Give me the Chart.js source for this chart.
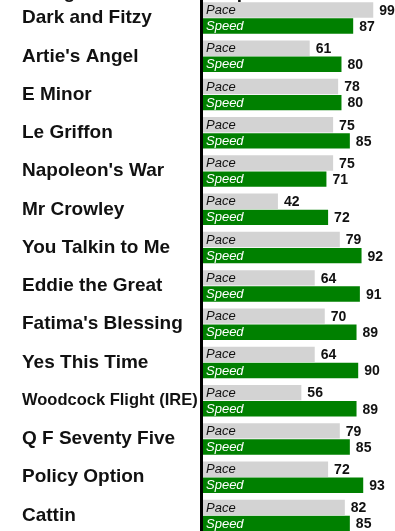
<!DOCTYPE html>
<html>
<head>
<meta charset="utf-8">
<script src="https://cdn.jsdelivr.net/npm/chart.js@4"></script>
<style>
  html, body { margin: 0; padding: 0; background: #fff; overflow: hidden; }
  body { width: 395px; height: 531px; position: relative; }
  #chart { position: absolute; left: 0; top: -30px; }
</style>
</head>
<body>
<canvas id="chart" width="395" height="576"></canvas>
<script>
const horses = [
    'Dark and Fitzy', "Artie's Angel", 'E Minor', 'Le Griffon', "Napoleon's War",
    'Mr Crowley', 'You Talkin to Me', 'Eddie the Great', "Fatima's Blessing",
    'Yes This Time', 'Woodcock Flight (IRE)', 'Q F Seventy Five', 'Policy Option', 'Cattin'
];
const paceRatings = [99, 61, 78, 75, 75, 42, 79, 64, 70, 64, 56, 79, 72, 82];
const speedRatings = [87, 80, 80, 85, 71, 72, 92, 91, 89, 90, 89, 85, 93, 85];
const seriesNames = ['Pace', 'Speed'];
const chartTitle = 'Ratings: Race Pace vs Speed';

const X_MIN = -4;
const X_MAX = 112;

const FONT = "'Liberation Sans', Arial, sans-serif";

// title sits just above the plot, mostly scrolled out of view
const titlePlugin = {
    id: 'topTitle',
    afterDraw(chart) {
        const { ctx, chartArea } = chart;
        ctx.save();
        ctx.font = `bold 19px ${FONT}`;
        ctx.fillStyle = '#111';
        ctx.textAlign = 'left';
        ctx.textBaseline = 'alphabetic';
        ctx.fillText(chartTitle, 16, chartArea.top - 1);
        ctx.restore();
    }
};

// series name inside each bar, value just past its end
const barLabels = {
    id: 'barLabels',
    afterDatasetsDraw(chart) {
        const { ctx, chartArea } = chart;
        ctx.save();
        chart.data.datasets.forEach((ds, di) => {
            const meta = chart.getDatasetMeta(di);
            meta.data.forEach((bar, i) => {
                ctx.textBaseline = 'middle';
                ctx.textAlign = 'left';
                ctx.font = `italic 13px ${FONT}`;
                ctx.fillStyle = di === 0 ? '#111' : '#fff';
                ctx.fillText(ds.label, chartArea.left + 5, bar.y + 0.5);

                ctx.font = `bold 14px ${FONT}`;
                ctx.fillStyle = '#111';
                ctx.fillText(String(ds.data[i]), bar.x + 6, bar.y + 1);
            });
        });
        ctx.restore();
    }
};

new Chart(document.getElementById('chart'), {
    type: 'bar',
    data: {
        labels: horses,
        datasets: [
            {
                label: seriesNames[0],
                data: paceRatings,
                backgroundColor: '#d3d3d3',
                base: X_MIN,
                categoryPercentage: 0.84,
                barPercentage: 0.96
            },
            {
                label: seriesNames[1],
                data: speedRatings,
                backgroundColor: '#008000',
                base: X_MIN,
                categoryPercentage: 0.84,
                barPercentage: 0.96
            }
        ]
    },
    options: {
        indexAxis: 'y',
        responsive: false,
        devicePixelRatio: 1,
        animation: false,
        layout: { padding: { top: 28.9, bottom: 0, left: 22, right: 0 } },
        plugins: {
            legend: { display: false },
            tooltip: { enabled: false },
            title: { display: false }
        },
        scales: {
            x: {
                display: false,
                min: X_MIN,
                max: X_MAX
            },
            y: {
                grid: { display: false },
                border: { display: true, color: '#000', width: 3, z: 1 },
                afterFit: axis => { axis.width = 179; },
                ticks: {
                    crossAlign: 'far',
                    color: '#111',
                    padding: 0,
                    font: ctx => ({
                        family: FONT,
                        weight: 'bold',
                        size: horses[ctx.index] && horses[ctx.index].length > 18 ? 16.5 : 19
                    })
                }
            }
        }
    },
    plugins: [barLabels, titlePlugin]
});
</script>
</body>
</html>
